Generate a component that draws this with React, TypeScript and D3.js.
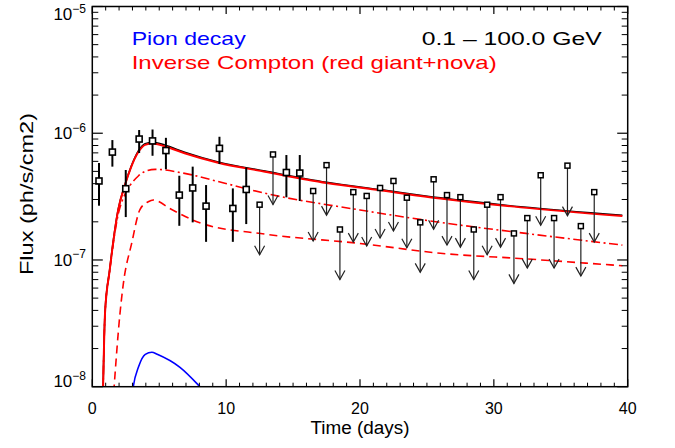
import * as d3 from "d3";

// Fermi-LAT style light curve, 0.1-100 GeV
const detT = [0.5, 1.5, 2.5, 3.5, 4.5, 5.5, 6.5, 7.5, 8.5, 9.5, 10.5, 11.5, 14.5, 15.5];
const detFlux = [4.2e-7, 7.1e-7, 3.65e-7, 9.0e-7, 8.7e-7, 7.3e-7, 3.25e-7, 3.7e-7, 2.66e-7, 7.6e-7, 2.55e-7, 3.6e-7, 4.9e-7, 4.85e-7];
const detHi = [5.82e-7, 8.83e-7, 5.13e-7, 1.06e-6, 1.07e-6, 9.2e-7, 4.62e-7, 5.45e-7, 3.9e-7, 9.38e-7, 3.67e-7, 5.38e-7, 6.73e-7, 6.73e-7];
const detLo = [2.68e-7, 5.45e-7, 2.18e-7, 6.98e-7, 6.64e-7, 5.2e-7, 1.86e-7, 1.98e-7, 1.39e-7, 5.72e-7, 1.39e-7, 1.92e-7, 3.12e-7, 2.92e-7];

const ulT = [12.5, 13.5, 16.5, 17.5, 18.5, 19.5, 20.5, 21.5, 22.5, 23.5, 24.5, 25.5, 26.5, 27.5, 28.5, 29.5, 30.5, 31.5, 32.5, 33.5, 34.5, 35.5, 36.5, 37.5];
const ulFlux = [2.73e-7, 6.8e-7, 3.5e-7, 5.6e-7, 1.74e-7, 3.43e-7, 3.2e-7, 3.7e-7, 4.2e-7, 3.1e-7, 1.98e-7, 4.33e-7, 3.25e-7, 3.13e-7, 1.74e-7, 2.73e-7, 3.13e-7, 1.62e-7, 2.14e-7, 4.66e-7, 2.14e-7, 5.55e-7, 1.85e-7, 3.43e-7];

// model curves [time, flux]
const totalModel: [number, number][] = [
  [0.8, 9.2e-9], [0.95, 3.85e-8], [1.3, 8.4e-8], [1.94, 2.52e-7], [2.44, 3.93e-7], [2.9, 5.45e-7],
  [3.44, 7.25e-7], [3.94, 8.28e-7], [4.5, 8.5e-7], [5.4, 8.08e-7], [6.9, 7.08e-7], [9.4, 5.93e-7],
  [12.9, 5.03e-7], [17.5, 4.1e-7], [21.5, 3.59e-7], [26, 3.09e-7], [32, 2.63e-7], [39.6, 2.25e-7],
];
const icModel: [number, number][] = [
  [0.8, 9e-9], [0.95, 3.8e-8], [1.3, 8.3e-8], [1.94, 2.5e-7], [2.44, 3.9e-7], [2.9, 5.4e-7],
  [3.44, 7.1e-7], [3.94, 8.1e-7], [4.5, 8.3e-7], [5.4, 7.9e-7], [6.9, 6.95e-7], [9.4, 5.85e-7],
  [12.9, 4.97e-7], [17.5, 4.05e-7], [21.5, 3.55e-7], [26, 3.05e-7], [32, 2.6e-7], [39.6, 2.22e-7],
];
const icNova: [number, number][] = [
  [0.8, 9e-9], [0.95, 3.8e-8], [1.3, 8.2e-8], [1.94, 2.3e-7], [2.44, 3.3e-7], [3.0, 4.1e-7],
  [3.44, 4.6e-7], [3.94, 5.0e-7], [4.7, 5.19e-7], [6.9, 4.82e-7], [9.9, 4.03e-7], [12.9, 3.36e-7],
  [20, 2.48e-7], [26, 1.98e-7], [32.4, 1.62e-7], [39.6, 1.31e-7],
];
const icGiant: [number, number][] = [
  [1.6, 9e-9], [2.07, 3.8e-8], [2.32, 6.5e-8], [2.94, 1.35e-7], [3.56, 2.5e-7], [4.18, 2.88e-7],
  [4.56, 2.97e-7], [5.93, 2.5e-7], [8.17, 1.94e-7], [12.9, 1.6e-7], [20, 1.35e-7], [26, 1.13e-7],
  [32.4, 1.02e-7], [39.6, 9.0e-8],
];
const pionModel: [number, number][] = [
  [3.0, 9e-9], [3.06, 1.0e-8], [3.47, 1.45e-8], [3.96, 1.8e-8], [4.45, 1.87e-8], [4.85, 1.8e-8],
  [6.55, 1.42e-8], [8.04, 1.0e-8], [8.2, 9.6e-9],
];

const xTicks = [0, 10, 20, 30, 40];
const yTickExp = [-5, -6, -7, -8];

const W = 675, H = 448;
const left = 92.3, right = 627.7, top = 6.5, bottom = 386.7;
const font = "'Liberation Sans', Arial, sans-serif";

export default function App() {
  const x = d3.scaleLinear().domain([0, 40]).range([left, right]);
  const y = d3.scaleLog().domain([1e-8, 1e-5]).range([bottom, top]);
  const line = d3.line<[number, number]>()
    .x(d => x(d[0]))
    .y(d => y(d[1]))
    .curve(d3.curveMonotoneX);

  const minorX = d3.range(0, 41, 1).filter(v => v % 10 !== 0);
  const minorY: number[] = [];
  for (let e = -8; e < -5; e++) for (let m = 2; m <= 9; m++) minorY.push(m * Math.pow(10, e));

  const arrowLen = 50;

  return (
    <div style={{ position: "absolute", left: 0, top: 0 }}>
      <svg width={W} height={H} style={{ display: "block", background: "#fff" }}>
        <defs>
          <clipPath id="plot">
            <rect x={left} y={top} width={right - left} height={bottom - top} />
          </clipPath>
        </defs>

        {/* models */}
        <g clipPath="url(#plot)" fill="none">
          <path d={line(totalModel) ?? ""} stroke="#000" strokeWidth={1.6} />
          <path d={line(icModel) ?? ""} stroke="#ff0000" strokeWidth={2} />
          <path d={line(icNova) ?? ""} stroke="#ff0000" strokeWidth={1.6} strokeDasharray="9 3.5 2 3.5" />
          <path d={line(icGiant) ?? ""} stroke="#ff0000" strokeWidth={1.6} strokeDasharray="8 5" />
          <path d={line(pionModel) ?? ""} stroke="#0000ff" strokeWidth={1.6} />
        </g>

        {/* upper limits */}
        <g stroke="#222" fill="none">
          {ulT.map((t, i) => {
            const cx = x(t), cy = y(ulFlux[i]);
            const tip = cy + arrowLen;
            return (
              <g key={"ul" + i}>
                <line x1={cx} x2={cx} y1={cy} y2={tip} strokeWidth={1.2} />
                <polyline points={`${cx - 5},${tip - 9} ${cx},${tip} ${cx + 5},${tip - 9}`} strokeWidth={1.2} />
                <rect x={cx - 2.5} y={cy - 2.5} width={5} height={5} fill="#fff" stroke="#000" strokeWidth={1.5} />
              </g>
            );
          })}
        </g>

        {/* detections */}
        <g>
          {detT.map((t, i) => {
            const cx = x(t);
            return (
              <g key={"d" + i}>
                <line x1={cx} x2={cx} y1={y(detHi[i])} y2={y(detLo[i])} stroke="#000" strokeWidth={2} />
                <rect x={cx - 3} y={y(detFlux[i]) - 3} width={6} height={6} fill="#fff" stroke="#000" strokeWidth={1.6} />
              </g>
            );
          })}
        </g>

        {/* frame + ticks */}
        <g stroke="#000" fill="none">
          <rect x={left} y={top} width={right - left} height={bottom - top} strokeWidth={1.5} />
          {xTicks.map(v => (
            <g key={"xt" + v}>
              <line x1={x(v)} x2={x(v)} y1={bottom} y2={bottom - 7.5} strokeWidth={1.2} />
              <line x1={x(v)} x2={x(v)} y1={top} y2={top + 7.5} strokeWidth={1.2} />
            </g>
          ))}
          {minorX.map(v => (
            <g key={"xm" + v}>
              <line x1={x(v)} x2={x(v)} y1={bottom} y2={bottom - 4} strokeWidth={1} />
              <line x1={x(v)} x2={x(v)} y1={top} y2={top + 4} strokeWidth={1} />
            </g>
          ))}
          {yTickExp.map(e => (
            <g key={"yt" + e}>
              <line x1={left} x2={left + 10.5} y1={y(Math.pow(10, e))} y2={y(Math.pow(10, e))} strokeWidth={1.2} />
              <line x1={right} x2={right - 10.5} y1={y(Math.pow(10, e))} y2={y(Math.pow(10, e))} strokeWidth={1.2} />
            </g>
          ))}
          {minorY.map((v, i) => (
            <g key={"ym" + i}>
              <line x1={left} x2={left + 6} y1={y(v)} y2={y(v)} strokeWidth={1} />
              <line x1={right} x2={right - 6} y1={y(v)} y2={y(v)} strokeWidth={1} />
            </g>
          ))}
        </g>

        {/* tick labels */}
        <g fontFamily={font} fill="#000">
          {xTicks.map(v => (
            <text key={"xl" + v} x={x(v)} y={413.5} fontSize={16} textAnchor="middle">{v}</text>
          ))}
          {yTickExp.map(e => {
            const base = Math.min(Math.max(y(Math.pow(10, e)) + 6, top + 13.5), bottom + 0.5);
            return (
              <text key={"yl" + e} x={86} y={base} fontSize={17} textAnchor="end">
                10<tspan fontSize={12} dy={-7.5}>{"\u2212" + Math.abs(e)}</tspan>
              </text>
            );
          })}
        </g>

        {/* axis titles */}
        <g fontFamily={font} fill="#000" fontSize={18}>
          <text x={(left + right) / 2} y={433.5} textAnchor="middle" textLength={99} lengthAdjust="spacingAndGlyphs">Time (days)</text>
          <text transform={`translate(33, 194) rotate(-90)`} textAnchor="middle" textLength={162} lengthAdjust="spacingAndGlyphs">Flux (ph/s/cm2)</text>
        </g>

        {/* legend */}
        <g fontFamily={font} fontSize={19}>
          <text x={131.7} y={45} fill="#0000ff" textLength={114} lengthAdjust="spacingAndGlyphs">Pion decay</text>
          <text x={131.7} y={69.3} fill="#ff0000" textLength={365} lengthAdjust="spacingAndGlyphs">Inverse Compton (red giant+nova)</text>
          <text x={421.7} y={45} fill="#000" textLength={180} lengthAdjust="spacingAndGlyphs">{"0.1 \u2013 100.0 GeV"}</text>
        </g>
      </svg>
    </div>
  );
}
